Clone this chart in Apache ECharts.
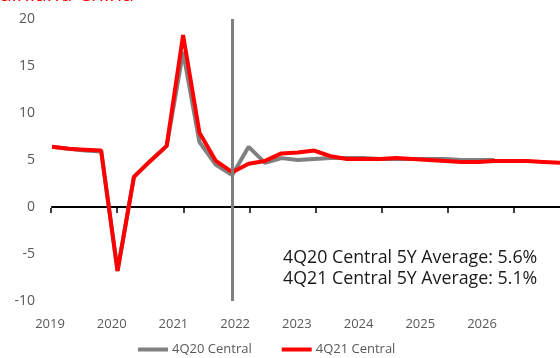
<!DOCTYPE html>
<html>
<head>
<meta charset="utf-8">
<script src="https://cdn.jsdelivr.net/npm/echarts@6/dist/echarts.min.js"></script>
<style>
  html, body { margin: 0; padding: 0; background: #fff; }
  #chart { width: 560px; height: 358px; }
</style>
</head>
<body>
<div id="chart"></div>
<script>
// Quarterly real GDP growth, % y/y
const quarters = [
  '2019Q1','2019Q2','2019Q3','2019Q4',
  '2020Q1','2020Q2','2020Q3','2020Q4',
  '2021Q1','2021Q2','2021Q3','2021Q4',
  '2022Q1','2022Q2','2022Q3','2022Q4',
  '2023Q1','2023Q2','2023Q3','2023Q4',
  '2024Q1','2024Q2','2024Q3','2024Q4',
  '2025Q1','2025Q2','2025Q3','2025Q4',
  '2026Q1','2026Q2','2026Q3','2026Q4'
];
const central4Q20 = [
  6.4, 6.2, 6.0, 5.9,
  -6.8, 3.2, 4.9, 6.5,
  16.5, 6.9, 4.5, 3.4,
  6.4, 4.7, 5.2, 5.0,
  5.1, 5.2, 5.2, 5.2,
  5.1, 5.1, 5.1, 5.1,
  5.1, 5.0, 5.0, 5.0
];
const central4Q21 = [
  6.4, 6.2, 6.1, 6.0,
  -6.8, 3.2, 4.9, 6.5,
  18.3, 7.9, 4.9, 3.7,
  4.6, 4.9, 5.7, 5.8,
  6.0, 5.4, 5.1, 5.1,
  5.1, 5.2, 5.1, 5.0,
  4.9, 4.8, 4.8, 4.9,
  4.9, 4.9, 4.8, 4.7
];
const yearLabels = ['2019','2020','2021','2022','2023','2024','2025','2026'];
const forecastStart = '2021Q4';
const averageNotes = [
  '4Q20 Central 5Y Average: 5.6%',
  '4Q21 Central 5Y Average: 5.1%'
];

const FONT = 'Open Sans';
const AXIS_TEXT = '#595959';

const chart = echarts.init(document.getElementById('chart'), null, { renderer: 'canvas' });

chart.setOption({
  animation: false,
  textStyle: { fontFamily: FONT },
  grid: [
    // plot area for the series
    { left: 52, right: -11.25, top: 19, bottom: 57 },
    // year tick marks along the zero line
    { left: 51, width: 463, top: 19, bottom: 150 },
    // year labels below the plot
    { left: 50, width: 432, top: 19, bottom: 57 }
  ],
  xAxis: [
    {
      gridIndex: 0,
      type: 'category',
      data: quarters,
      boundaryGap: false,
      axisLine: { show: true, onZero: true, lineStyle: { color: '#000', width: 2 } },
      axisTick: { show: false },
      axisLabel: { show: false },
      splitLine: { show: false }
    },
    {
      gridIndex: 1,
      type: 'category',
      data: yearLabels,
      boundaryGap: false,
      axisLine: { show: false },
      axisTick: { show: true, length: 5, alignWithLabel: true, lineStyle: { color: '#000', width: 1.5 } },
      axisLabel: { show: false },
      splitLine: { show: false }
    },
    {
      gridIndex: 2,
      type: 'category',
      data: yearLabels,
      boundaryGap: false,
      axisLine: { show: false },
      axisTick: { show: false },
      axisLabel: { show: true, interval: 0, margin: 17, color: AXIS_TEXT, fontSize: 13, fontFamily: FONT },
      splitLine: { show: false }
    }
  ],
  yAxis: [
    {
      gridIndex: 0,
      type: 'value',
      min: -10, max: 20, interval: 5,
      axisLine: { show: false },
      axisTick: { show: false },
      splitLine: { show: false },
      axisLabel: { color: AXIS_TEXT, fontSize: 14, margin: 17, fontFamily: FONT }
    },
    { gridIndex: 1, type: 'value', show: false },
    { gridIndex: 2, type: 'value', show: false }
  ],
  legend: {
    left: 138,
    top: 343,
    padding: 0,
    icon: 'rect',
    itemWidth: 30,
    itemHeight: 4,
    itemGap: 30,
    textStyle: { color: AXIS_TEXT, fontSize: 13, fontFamily: FONT, padding: [0, 0, 0, -1] },
    data: ['4Q20 Central', '4Q21 Central']
  },
  series: [
    {
      name: '4Q20 Central',
      type: 'line',
      xAxisIndex: 0, yAxisIndex: 0,
      data: central4Q20,
      symbol: 'none',
      lineStyle: { color: '#808080', width: 4 },
      itemStyle: { color: '#808080' },
      z: 2
    },
    {
      name: '4Q21 Central',
      type: 'line',
      xAxisIndex: 0, yAxisIndex: 0,
      data: central4Q21,
      symbol: 'none',
      lineStyle: { color: '#ff0000', width: 4 },
      itemStyle: { color: '#ff0000' },
      z: 3,
      markLine: {
        silent: true,
        symbol: 'none',
        label: { show: false },
        lineStyle: { color: '#7f7f7f', width: 3, type: 'solid' },
        data: [{ xAxis: forecastStart }]
      }
    }
  ],
  graphic: [
    {
      type: 'text',
      left: -19, top: -15,
      style: { text: 'Mainland China', fill: '#ff0000', font: '21px "Open Sans"' }
    },
    {
      type: 'text',
      left: 283, top: 249,
      style: { text: averageNotes[0], fill: '#1a1a1a', font: '17.8px "Open Sans"' }
    },
    {
      type: 'text',
      left: 283, top: 270,
      style: { text: averageNotes[1], fill: '#1a1a1a', font: '17.8px "Open Sans"' }
    }
  ]
});
</script>
</body>
</html>
